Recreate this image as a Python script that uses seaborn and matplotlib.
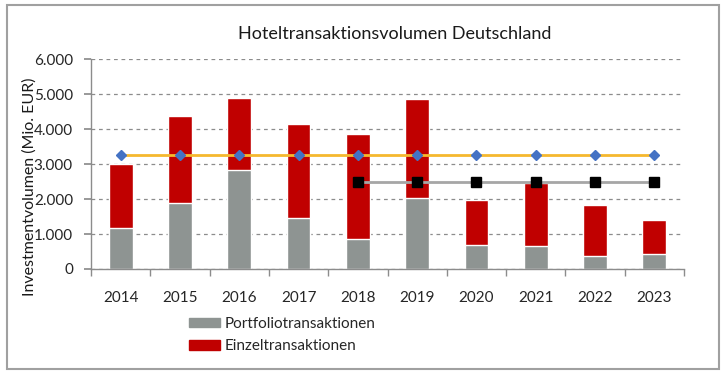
import matplotlib
matplotlib.use("Agg")
import matplotlib.pyplot as plt
import matplotlib.patches as mpatches
import matplotlib.ticker as mticker
import pandas as pd
import seaborn as sns

sns.set_theme(style="white")
plt.rcParams['font.family'] = ['Lato', 'DejaVu Sans']

# values (Mio. EUR)
years = ['2014', '2015', '2016', '2017', '2018', '2019', '2020', '2021', '2022', '2023']
portfolio = [1180, 1890, 2840, 1450, 850, 2020, 680, 660, 360, 420]
total = [3000, 4360, 4880, 4150, 3850, 4860, 1980, 2460, 1830, 1400]
einzel = [t - p for t, p in zip(total, portfolio)]
avg_long = [3270] * 10
avg_short_years = ['2018', '2019', '2020', '2021', '2022', '2023']
avg_short = [2500] * 6

df = pd.DataFrame({'Jahr': years, 'Portfolio': portfolio, 'Einzel': einzel, 'Gesamt': total})

grey = '#8E9492'
red = '#C00000'

fig = plt.figure(figsize=(7.25, 3.77), dpi=100)
ax = fig.add_axes([91 / 725, 1 - 269 / 377, (684 - 91) / 725, (269 - 59) / 377])

# stacked bars: total (red) behind, portfolio (grey) on top
sns.barplot(data=df, x='Jahr', y='Gesamt', color=red, width=0.4, saturation=1, ax=ax)
sns.barplot(data=df, x='Jahr', y='Portfolio', color=grey, width=0.4, saturation=1, ax=ax)

ax.plot(years, avg_long, color='#F5B82E', lw=2, zorder=3)
ax.plot(years, avg_long, ls='none', marker='D', ms=5.5, color='#4472C4', zorder=4)
ax.plot(avg_short_years, avg_short, color='#A6A6A6', lw=2, zorder=3)
ax.plot(avg_short_years, avg_short, ls='none', marker='s', ms=7, color='black', zorder=4)

ax.set_xlim(-0.5, 9.5)
ax.set_ylim(0, 6000)
ax.yaxis.set_major_locator(mticker.MultipleLocator(1000))
ax.yaxis.set_major_formatter(mticker.FuncFormatter(lambda v, p: f"{int(v):,}".replace(',', '.')))
ax.grid(axis='y', color='#8C8C8C', ls=(0, (3, 3)), lw=0.9)
ax.set_axisbelow(True)

for s in ['top', 'right']:
    ax.spines[s].set_visible(False)
for s in ['left', 'bottom']:
    ax.spines[s].set_color('#8C8C8C')
    ax.spines[s].set_linewidth(1)

ax.tick_params(axis='y', which='major', left=True, length=5, color='#8C8C8C', labelsize=11, pad=8)
ax.tick_params(axis='x', which='major', bottom=False, labelsize=11, pad=10)
ax.set_xticks([i + 0.5 for i in range(-1, 10)], minor=True)
ax.tick_params(axis='x', which='minor', bottom=True, length=5, color='#8C8C8C')

ax.set_xlabel('')
ax.set_ylabel('')
fig.text(30 / 725, 1 - 187 / 377, 'Investmentvolumen (Mio. EUR)', rotation=90,
         ha='center', va='center', fontsize=11.5, color='#1a1a1a')

fig.text(395 / 725, 1 - 34 / 377, 'Hoteltransaktionsvolumen Deutschland', ha='center', va='center',
         fontsize=13, color='#1a1a1a')

handles = [mpatches.Patch(color=grey, label='Portfoliotransaktionen'),
           mpatches.Patch(color=red, label='Einzeltransaktionen')]
fig.legend(handles=handles, loc='upper left', bbox_to_anchor=(175 / 725, 1 - 303 / 377),
           frameon=False, fontsize=11, handlelength=2.05, handleheight=0.6,
           handletextpad=0.3, labelspacing=0.55)

# frame around the whole chart
fig.patches.append(mpatches.Rectangle((7 / 725, 1 - 369 / 377), 712 / 725, 364 / 377,
                                      transform=fig.transFigure, fill=False,
                                      edgecolor='#A0A0A0', lw=1.5))

fig.savefig('out.png', dpi=100)
